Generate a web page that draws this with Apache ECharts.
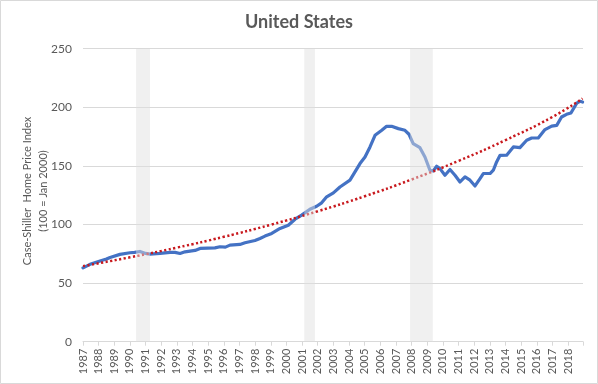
<!DOCTYPE html>
<html>
<head>
<meta charset="utf-8">
<script src="https://cdn.jsdelivr.net/npm/echarts@6/dist/echarts.min.js"></script>
<style>
html,body{margin:0;padding:0;background:#fff;}
#chart{width:598px;height:384px;}
</style>
</head>
<body>
<div id="chart"></div>
<script>
// Case-Shiller index (year as decimal, value)
var dates = [1987.0,1987.45,1988.09,1988.5,1988.73,1989.36,1990.0,1990.3,1990.64,1991.0,1991.28,1991.92,1992.24,1992.56,1992.88,1993.2,1993.52,1994.16,1994.48,1995.43,1995.75,1996.1,1996.39,1997.03,1997.35,1997.99,1998.31,1998.63,1999.06,1999.59,2000.12,2000.55,2000.97,2001.5,2001.93,2002.25,2002.57,2003.0,2003.42,2004.06,2004.38,2004.7,2005.02,2005.34,2005.66,2006.09,2006.4,2006.72,2007.15,2007.57,2007.83,2008.1,2008.53,2008.85,2009.17,2009.38,2009.6,2009.81,2010.13,2010.45,2010.77,2011.09,2011.41,2011.73,2012.05,2012.37,2012.58,2013.01,2013.22,2013.43,2013.65,2014.07,2014.5,2014.92,2015.35,2015.67,2016.09,2016.52,2016.95,2017.27,2017.58,2017.9,2018.18,2018.55,2018.76,2018.92];
var index = [63,66,68.8,70.5,71.9,74.5,75.9,76.2,77,75.3,74.7,75.3,75.8,76.2,76.2,75.3,76.7,77.9,79.6,80.1,81,80.7,82.4,83,84.4,86.4,88.1,90.1,92.4,96.6,99.4,104.5,108,113,115.6,118.5,123.6,127,132,137.8,144.9,152,157.6,166.2,176.1,180.4,183.8,183.8,181.8,180.4,177,169,165.5,157.6,146.3,145.7,149.7,147.7,142,146.9,142,136.3,140.6,137.8,132.9,139.2,143.5,143.5,146.3,153.4,159,159.1,166.2,165.6,171.9,173.8,173.8,181,184,184.6,191.7,194,195.1,203.6,205.1,204.5];
// exponential trend line
var trendDates = [1987,1990,1993,1996,1999,2002,2005,2008,2011,2014,2017,2018.92];
var trendValues = [64.5,72,80.3,89.5,99.8,111.3,124.1,138.4,154.3,172,191.8,207.5];
// recessions
var recStart = [1990.39, 2001.14, 2007.9];
var recEnd = [1991.28, 2001.82, 2009.35];
var yTicks = [0,50,100,150,200,250];
var yTitle = 'Case-Shiller  Home Price Index\n(100 = Jan 2000)';

function pairs(xs, ys){ return xs.map(function(x,i){ return [x, ys[i]]; }); }

var chart = echarts.init(document.getElementById('chart'));
var font = 'Lato, "Open Sans", sans-serif';
chart.setOption({
  animation: false,
  backgroundColor: '#fff',
  textStyle: {fontFamily: font},
  title: {
    text: 'United States', left: 'center', top: 8,
    textStyle: {fontFamily: font, fontSize: 18, fontWeight: 'bold', color: '#595959'}
  },
  graphic: [{
    type: 'rect', shape: {x: 0.5, y: 0.5, width: 597, height: 383},
    style: {fill: 'none', stroke: '#d9d9d9', lineWidth: 1}, silent: true, z: 100
  }, {
    type: 'text', x: 35, y: 191, rotation: Math.PI / 2, silent: true,
    style: {
      text: yTitle, fill: '#595959', font: '11px ' + font, lineHeight: 16,
      align: 'center', verticalAlign: 'middle'
    }
  }],
  grid: {left: 83, right: 15, top: 48.7, bottom: 42.3, containLabel: false},
  xAxis: {
    type: 'value', min: 1987, max: 2018.95, interval: 1,
    splitLine: {show: false},
    axisLine: {lineStyle: {color: '#d9d9d9', width: 1}},
    axisTick: {show: true, length: 4, lineStyle: {color: '#d9d9d9'}},
    axisLabel: {
      rotate: 90, color: '#595959', fontSize: 11, margin: 7, fontFamily: font,
      formatter: function(v){ return Math.abs(v - Math.round(v)) < 1e-6 ? String(Math.round(v)) : ''; }
    }
  },
  yAxis: {
    type: 'value', min: yTicks[0], max: yTicks[yTicks.length-1], interval: 50,
    axisLine: {show: false}, axisTick: {show: false},
    splitLine: {lineStyle: {color: '#d9d9d9', width: 1}},
    axisLabel: {color: '#595959', fontSize: 12, margin: 11, fontFamily: font}
  },
  series: [
    {
      type: 'line', data: pairs(dates, index), showSymbol: false, symbol: 'none',
      lineStyle: {color: '#4472C4', width: 3.2, cap: 'round', join: 'round'}, z: 2
    },
    {
      type: 'line', data: pairs(trendDates, trendValues), smooth: true, showSymbol: false, symbol: 'none',
      lineStyle: {color: '#C8191E', width: 2.5, type: [2.2, 2.4]}, z: 3
    },
    {
      type: 'custom', z: 10, silent: true,
      data: recStart.map(function(s, i){ return [s, recEnd[i]]; }),
      renderItem: function(params, api){
        var p0 = api.coord([api.value(0), yTicks[yTicks.length-1]]);
        var p1 = api.coord([api.value(1), yTicks[0]]);
        return {
          type: 'rect',
          shape: {x: p0[0], y: p0[1], width: p1[0] - p0[0], height: p1[1] - p0[1]},
          style: {fill: 'rgba(223,223,223,0.47)'}
        };
      }
    }
  ]
});
</script>
</body>
</html>
